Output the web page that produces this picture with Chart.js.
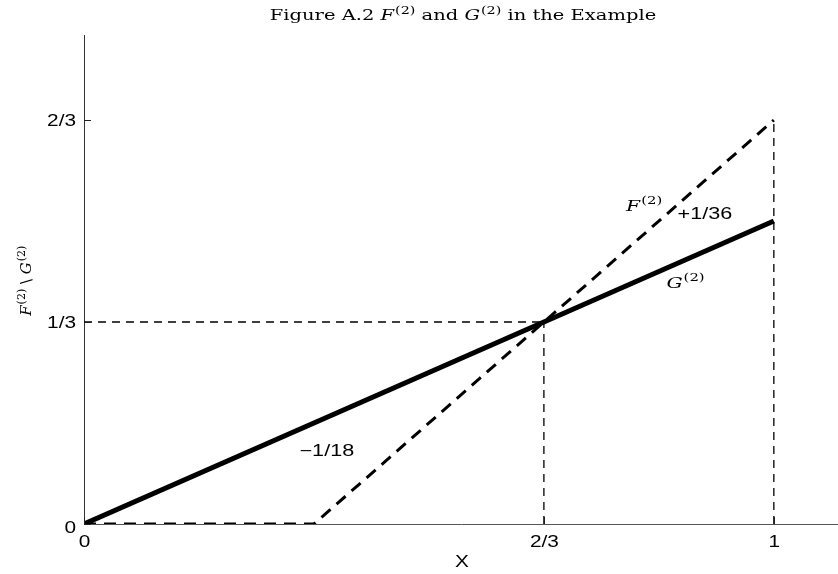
<!DOCTYPE html>
<html lang="en">
<head>
<meta charset="UTF-8">
<title>Figure A.2</title>
<script src="https://cdn.jsdelivr.net/npm/chart.js@4.4.0/dist/chart.umd.min.js"></script>
<style>
  body { margin: 0; background: #fff; }
  #wrap { width: 838px; height: 574px; }
</style>
</head>
<body>
<div id="wrap"><canvas id="myChart" width="838" height="574"></canvas></div>
<script>
// data
const xTicks = [0, 2/3, 1]
const xTickLabels = ['0', '2/3', '1']
const yTicks = [0, 1/3, 2/3]
const yTickLabels = ['0', '1/3', '2/3']

const fX = [0, 1/3, 1]
const fY = [0, 0, 2/3]
const gX = [0, 1]
const gY = [0, 0.5]

// dashed guide lines
const guideH = [[0, 1/3], [2/3, 1/3]]
const guideV1 = [[2/3, 0], [2/3, 1/3]]
const guideV2 = [[1, 0], [1, 2/3]]

// text notes: [x, y, text]
const notes = [
  [0.812, 0.527, 'F'],
  [0.900, 0.513, '+1/36'],
  [0.872, 0.400, 'G'],
  [0.352, 0.122, '\u22121/18']
]

const SX = 1.3   // the source figure's text is stretched sideways
const SANS = '"Liberation Sans"'
const SERIF = '"DejaVu Serif"'

function pts(xs, ys) { return xs.map((x, i) => ({ x: x, y: ys[i] })) }
function pairs(a) { return a.map(p => ({ x: p[0], y: p[1] })) }

function textW(ctx, t, font, sx) { ctx.font = font; return ctx.measureText(t).width * sx }

// stretched text, x/y in canvas pixels
function stretched(ctx, t, x, y, font, align, sx) {
  ctx.save()
  ctx.font = font
  ctx.textBaseline = 'alphabetic'
  ctx.textAlign = align
  ctx.translate(x, y)
  ctx.scale(sx, 1)
  ctx.fillText(t, 0, 0)
  ctx.restore()
}

// letter in italics followed by raised "(2)"; returns width
function mathW(ctx, letter, size, sx) {
  return textW(ctx, letter, 'italic ' + size + 'px ' + SERIF, sx) + 1 +
    textW(ctx, '(2)', Math.round(size * 0.75) + 'px ' + SERIF, sx)
}
function mathText(ctx, letter, x, y, size, sx) {
  const w1 = textW(ctx, letter, 'italic ' + size + 'px ' + SERIF, sx)
  stretched(ctx, letter, x, y, 'italic ' + size + 'px ' + SERIF, 'left', sx)
  stretched(ctx, '(2)', x + w1 + 1, y - size * 0.42, Math.round(size * 0.75) + 'px ' + SERIF, 'left', sx)
  return mathW(ctx, letter, size, sx)
}

const extras = {
  id: 'extras',
  afterDraw(chart) {
    const ctx = chart.ctx
    const xs = chart.scales.x, ys = chart.scales.y
    const a = chart.chartArea
    ctx.save()
    ctx.fillStyle = '#000'
    ctx.strokeStyle = '#222'
    ctx.lineWidth = 1
    // inner ticks
    yTicks.forEach(v => {
      const py = Math.round(ys.getPixelForValue(v)) + 0.5
      ctx.beginPath(); ctx.moveTo(a.left, py); ctx.lineTo(a.left + 7, py); ctx.stroke()
    })
    xTicks.forEach(v => {
      const px = Math.round(xs.getPixelForValue(v)) + 0.5
      ctx.beginPath(); ctx.moveTo(px, a.bottom); ctx.lineTo(px, a.bottom - 7); ctx.stroke()
    })
    // tick labels
    const tickFont = '16px ' + SANS
    yTicks.forEach((v, i) => {
      const py = ys.getPixelForValue(v)
      stretched(ctx, yTickLabels[i], a.left - 8, py + (v === 0 ? 9 : 6), tickFont, 'right', SX)
    })
    xTicks.forEach((v, i) => {
      const px = xs.getPixelForValue(v)
      stretched(ctx, xTickLabels[i], px + 0.5, a.bottom + 23, tickFont, 'center', SX)
    })
    // x title
    stretched(ctx, 'X', (a.left + a.right) / 2 + 1, a.bottom + 43, '16px ' + SANS, 'center', SX)

    // title
    const size = 15, tsx = 1.3
    const parts = [['Figure A.2 ', 'n'], ['F', 'm'], [' and ', 'n'], ['G', 'm'], [' in the Example', 'n']]
    let total = 0
    parts.forEach(p => {
      total += p[1] === 'n' ? textW(ctx, p[0], size + 'px ' + SERIF, tsx) : mathW(ctx, p[0], size, tsx)
    })
    let cx = (a.left + a.right) / 2 + 2 - total / 2
    parts.forEach(p => {
      if (p[1] === 'n') {
        stretched(ctx, p[0], cx, 20, size + 'px ' + SERIF, 'left', tsx)
        cx += textW(ctx, p[0], size + 'px ' + SERIF, tsx)
      } else {
        cx += mathText(ctx, p[0], cx, 20, size, tsx)
      }
    })

    // y axis title
    ctx.save()
    ctx.translate(31, (a.top + a.bottom) / 2 + 2)
    ctx.rotate(-Math.PI / 2)
    const ysz = 15
    const bw = textW(ctx, ' \\ ', ysz + 'px ' + SERIF, 1)
    const tw = 2 * mathW(ctx, 'F', ysz, 1) + bw
    let lx = -tw / 2
    lx += mathText(ctx, 'F', lx, 0, ysz, 1)
    stretched(ctx, ' \\ ', lx, 0, ysz + 'px ' + SERIF, 'left', 1)
    lx += bw
    mathText(ctx, 'G', lx, 0, ysz, 1)
    ctx.restore()

    // notes
    notes.forEach(n => {
      const px = xs.getPixelForValue(n[0]), py = ys.getPixelForValue(n[1])
      if (n[2] === 'F' || n[2] === 'G') {
        const w = mathW(ctx, n[2], 15, 1.35)
        mathText(ctx, n[2], px - w / 2, py + 6, 15, 1.35)
      } else {
        stretched(ctx, n[2], px, py + 5.5, '16px ' + SANS, 'center', 1.35)
      }
    })
    ctx.restore()
  }
}

const dashStyle = { borderColor: '#000', borderWidth: 1.3, borderDash: [8, 6], pointRadius: 0, fill: false }

const ctx = document.getElementById('myChart').getContext('2d')
const myChart = new Chart(ctx, {
  type: 'line',
  data: {
    datasets: [
      Object.assign({ label: 'h', data: pairs(guideH) }, dashStyle),
      Object.assign({ label: 'v1', data: pairs(guideV1) }, dashStyle),
      Object.assign({ label: 'v2', data: pairs(guideV2) }, dashStyle),
      { label: 'F', data: pts(fX, fY), borderColor: '#000', borderWidth: 3, borderDash: [12, 8], pointRadius: 0 },
      { label: 'G', data: pts(gX, gY), borderColor: '#000', borderWidth: 5, pointRadius: 0 }
    ]
  },
  options: {
    responsive: false,
    animation: false,
    layout: { padding: { top: 35, right: 0, left: 0, bottom: 0 } },
    plugins: { legend: { display: false }, tooltip: { enabled: false }, title: { display: false } },
    scales: {
      x: {
        type: 'linear', min: 0, max: 1.093,
        afterBuildTicks: s => { s.ticks = xTicks.map(v => ({ value: v })) },
        afterFit: s => { s.height = 50 },
        grid: { drawOnChartArea: false, drawTicks: false },
        border: { color: '#555', width: 1 },
        ticks: { display: false }
      },
      y: {
        type: 'linear', min: 0, max: 0.807,
        afterBuildTicks: s => { s.ticks = yTicks.map(v => ({ value: v })) },
        afterFit: s => { s.width = 84 },
        grid: { drawOnChartArea: false, drawTicks: false },
        border: { color: '#333', width: 1 },
        ticks: { display: false }
      }
    }
  },
  plugins: [extras]
})
</script>
</body>
</html>
